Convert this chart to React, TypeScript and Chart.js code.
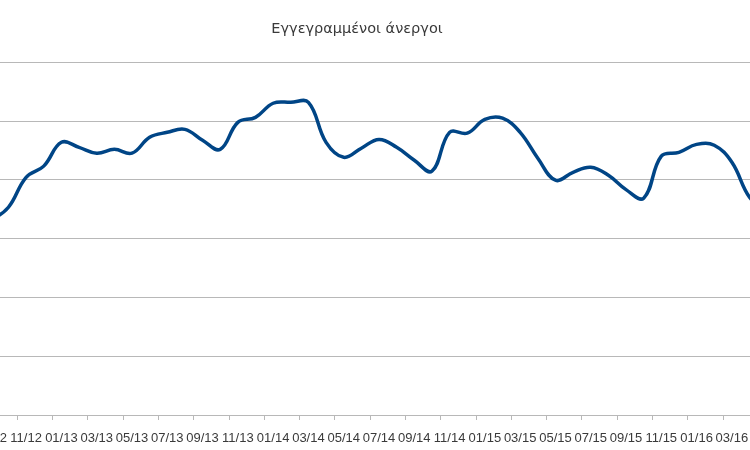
import React, { useEffect, useRef } from "react";
import { Chart, registerables } from "chart.js";

Chart.register(...registerables);

const chartTitle = "Εγγεγραμμένοι άνεργοι";

const months = [
  "09/12", "10/12", "11/12", "12/12",
  "01/13", "02/13", "03/13", "04/13", "05/13", "06/13", "07/13", "08/13", "09/13", "10/13", "11/13", "12/13",
  "01/14", "02/14", "03/14", "04/14", "05/14", "06/14", "07/14", "08/14", "09/14", "10/14", "11/14", "12/14",
  "01/15", "02/15", "03/15", "04/15", "05/15", "06/15", "07/15", "08/15", "09/15", "10/15", "11/15", "12/15",
  "01/16", "02/16", "03/16", "04/16", "05/16",
];

const unemployed = [
  660000, 707000, 809000, 847000,
  928000, 911000, 891000, 904000, 891000, 945000, 962000, 972000, 935000, 904000, 996000, 1013000,
  1061000, 1064000, 1064000, 928000, 877000, 908000, 938000, 911000, 867000, 830000, 962000, 959000,
  1006000, 1010000, 962000, 874000, 799000, 826000, 843000, 816000, 767000, 738000, 881000, 894000,
  921000, 918000, 860000, 741000, 690000,
];

const yMin = 0;
const yMax = 1200000;
const yStep = 200000;

const GRID = "#b8b8b8";
const TEXT = "#3a3a3a";
const LINE = "#004586";
const FONT = "'Liberation Sans', Arial, sans-serif";
const TITLE_FONT = "'DejaVu Sans', sans-serif";

export default function App() {
  const ref = useRef<HTMLCanvasElement | null>(null);

  useEffect(() => {
    if (!ref.current) return;
    const chart = new Chart(ref.current, {
      type: "line",
      data: {
        labels: months,
        datasets: [
          {
            label: chartTitle,
            data: unemployed,
            borderColor: LINE,
            backgroundColor: LINE,
            borderWidth: 3.5,
            pointRadius: 0,
            tension: 0.4,
            fill: false,
          },
        ],
      },
      options: {
        animation: false,
        responsive: false,
        maintainAspectRatio: false,
        layout: { padding: { left: 38, right: 24, top: 0, bottom: 0 } },
        plugins: {
          legend: { display: false },
          tooltip: { enabled: false },
          title: {
            display: true,
            text: chartTitle,
            color: TEXT,
            font: { family: TITLE_FONT, size: 14.5, weight: "normal" },
            padding: { top: 21, bottom: 24 },
          },
        },
        scales: {
          x: {
            type: "category",
            offset: true,
            afterFit: (s: any) => {
              s.height = 35;
            },
            grid: {
              offset: true,
              drawOnChartArea: false,
              drawTicks: true,
              tickLength: 5,
              tickColor: (ctx: any) => (ctx.index % 2 === 0 ? GRID : "rgba(0,0,0,0)"),
            },
            border: { display: true, color: GRID },
            ticks: {
              autoSkip: false,
              maxRotation: 0,
              minRotation: 0,
              padding: 11,
              color: TEXT,
              font: { family: FONT, size: 13 },
              callback: (_v: any, i: number) => (i % 2 === 0 ? months[i] : ""),
            },
          },
          y: {
            min: yMin,
            max: yMax,
            afterFit: (s: any) => {
              s.width = 44;
            },
            ticks: {
              stepSize: yStep,
              color: TEXT,
              font: { family: FONT, size: 13 },
            },
            grid: { color: GRID, drawTicks: false },
            border: { display: false },
          },
        },
      },
    });
    return () => chart.destroy();
  }, []);

  return (
    <div
      style={{
        position: "fixed",
        left: 0,
        top: 0,
        width: 750,
        height: 450,
        overflow: "hidden",
        background: "#ffffff",
      }}
    >
      <div style={{ position: "absolute", left: -100, top: 0, width: 900, height: 450 }}>
        <canvas ref={ref} width={900} height={450} style={{ width: 900, height: 450, display: "block" }} />
      </div>
    </div>
  );
}
